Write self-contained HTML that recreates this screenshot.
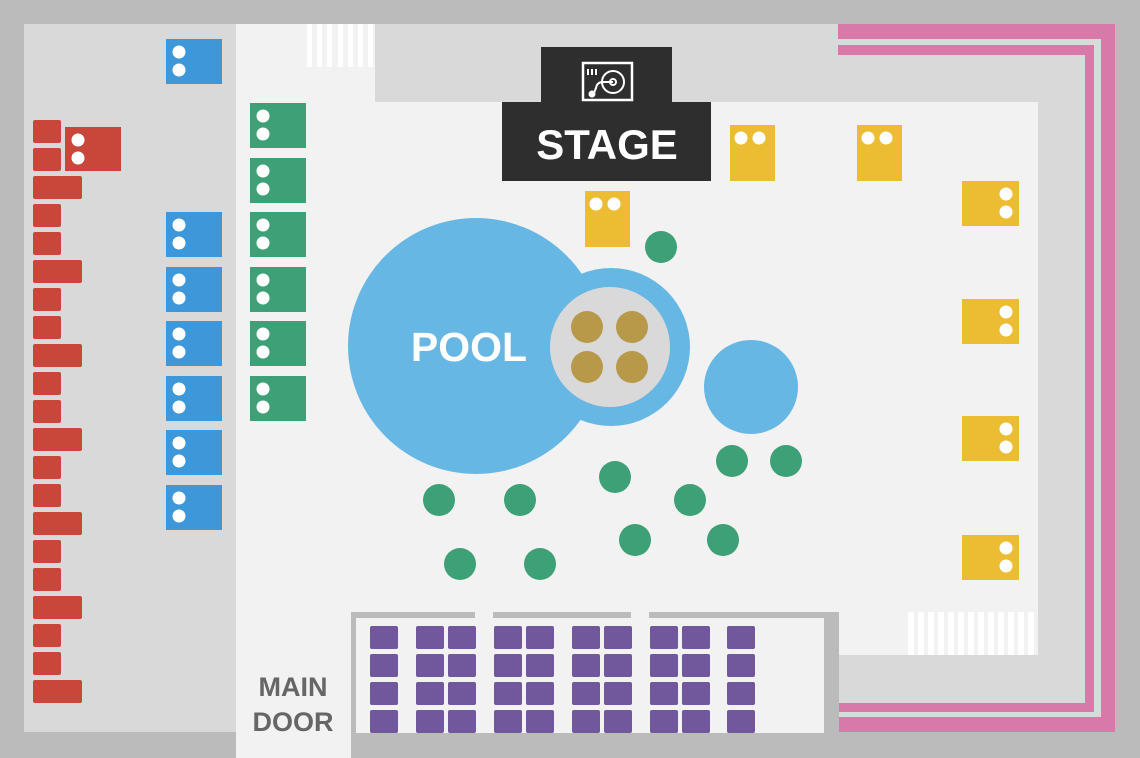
<!DOCTYPE html>
<html><head><meta charset="utf-8"><style>html,body{margin:0;padding:0;background:#bbb}svg{display:block}</style></head>
<body>
<svg width="1140" height="758" viewBox="0 0 1140 758" xmlns="http://www.w3.org/2000/svg" font-family="Liberation Sans, sans-serif">
<rect width="1140" height="758" fill="#bbbbbb"/>
<!-- left panel -->
<rect x="24" y="24" width="212" height="708" fill="#d9d9d9"/>
<!-- right/top gray -->
<rect x="236" y="24" width="879" height="708" fill="#d9d9d9"/>
<!-- floor -->
<rect x="236" y="24" width="139" height="734" fill="#f2f2f2"/>
<rect x="236" y="102" width="802" height="553" fill="#f2f2f2"/>
<!-- top stripes -->
<g fill="#ffffff">
<rect x="307" y="24" width="5" height="43"/><rect x="317" y="24" width="5" height="43"/><rect x="327" y="24" width="5" height="43"/><rect x="338" y="24" width="5" height="43"/><rect x="348" y="24" width="5" height="43"/><rect x="358" y="24" width="5" height="43"/><rect x="368" y="24" width="5" height="43"/>
</g>
<!-- bottom-right stripes -->
<g fill="#ffffff">
<rect x="908" y="612" width="6" height="43"/><rect x="918" y="612" width="6" height="43"/><rect x="928" y="612" width="6" height="43"/><rect x="938" y="612" width="6" height="43"/><rect x="948" y="612" width="6" height="43"/><rect x="958" y="612" width="6" height="43"/><rect x="968" y="612" width="6" height="43"/><rect x="978" y="612" width="6" height="43"/><rect x="988" y="612" width="6" height="43"/><rect x="998" y="612" width="6" height="43"/><rect x="1008" y="612" width="6" height="43"/><rect x="1018" y="612" width="6" height="43"/><rect x="1028" y="612" width="6" height="43"/>
</g>
<!-- pink lines -->
<g fill="#d779a9">
<rect x="838" y="24" width="277" height="15"/>
<rect x="1101" y="24" width="14" height="708"/>
<rect x="838" y="717" width="277" height="15"/>
<rect x="838" y="45" width="256" height="10"/>
<rect x="1085" y="45" width="9" height="667"/>
<rect x="838" y="703" width="256" height="9"/>
</g>
<!-- purple enclosure -->
<rect x="351" y="612" width="488" height="146" fill="#bbbbbb"/>
<rect x="356" y="618" width="468" height="115" fill="#f2f2f2"/>
<rect x="475" y="610" width="18" height="8" fill="#f2f2f2"/>
<rect x="631" y="610" width="18" height="8" fill="#f2f2f2"/>
<rect x="236" y="612" width="115" height="146" fill="#f2f2f2"/>
<g fill="#71579c">
<g id="pr">
<rect x="370" y="626" width="28" height="23" rx="2"/><rect x="416" y="626" width="28" height="23" rx="2"/><rect x="448" y="626" width="28" height="23" rx="2"/><rect x="494" y="626" width="28" height="23" rx="2"/><rect x="526" y="626" width="28" height="23" rx="2"/><rect x="572" y="626" width="28" height="23" rx="2"/><rect x="604" y="626" width="28" height="23" rx="2"/><rect x="650" y="626" width="28" height="23" rx="2"/><rect x="682" y="626" width="28" height="23" rx="2"/><rect x="727" y="626" width="28" height="23" rx="2"/>
</g>
<use href="#pr" y="28"/><use href="#pr" y="56"/><use href="#pr" y="84"/>
</g>
<text x="293" y="696" font-size="27" font-weight="bold" fill="#666" text-anchor="middle">MAIN</text>
<text x="293" y="731" font-size="27" font-weight="bold" fill="#666" text-anchor="middle">DOOR</text>
<!-- red -->
<g fill="#c9473a">
<rect x="33" y="120" width="28" height="23" rx="2"/><rect x="33" y="148" width="28" height="23" rx="2"/><rect x="33" y="176" width="49" height="23" rx="2"/>
<rect x="33" y="204" width="28" height="23" rx="2"/><rect x="33" y="232" width="28" height="23" rx="2"/><rect x="33" y="260" width="49" height="23" rx="2"/>
<rect x="33" y="288" width="28" height="23" rx="2"/><rect x="33" y="316" width="28" height="23" rx="2"/><rect x="33" y="344" width="49" height="23" rx="2"/>
<rect x="33" y="372" width="28" height="23" rx="2"/><rect x="33" y="400" width="28" height="23" rx="2"/><rect x="33" y="428" width="49" height="23" rx="2"/>
<rect x="33" y="456" width="28" height="23" rx="2"/><rect x="33" y="484" width="28" height="23" rx="2"/><rect x="33" y="512" width="49" height="23" rx="2"/>
<rect x="33" y="540" width="28" height="23" rx="2"/><rect x="33" y="568" width="28" height="23" rx="2"/><rect x="33" y="596" width="49" height="23" rx="2"/>
<rect x="33" y="624" width="28" height="23" rx="2"/><rect x="33" y="652" width="28" height="23" rx="2"/><rect x="33" y="680" width="49" height="23" rx="2"/>
<rect x="65" y="127" width="56" height="44"/>
</g>
<g fill="#fff"><circle cx="78" cy="140" r="6.5"/><circle cx="78" cy="158" r="6.5"/></g>
<!-- blue -->
<g>
<g fill="#3d97d8">
<rect x="166" y="39" width="56" height="45"/><rect x="166" y="212" width="56" height="45"/><rect x="166" y="267" width="56" height="45"/><rect x="166" y="321" width="56" height="45"/><rect x="166" y="376" width="56" height="45"/><rect x="166" y="430" width="56" height="45"/><rect x="166" y="485" width="56" height="45"/>
</g>
<g fill="#fff">
<circle cx="179" cy="52" r="6.5"/><circle cx="179" cy="70" r="6.5"/>
<circle cx="179" cy="225" r="6.5"/><circle cx="179" cy="243" r="6.5"/>
<circle cx="179" cy="280" r="6.5"/><circle cx="179" cy="298" r="6.5"/>
<circle cx="179" cy="334" r="6.5"/><circle cx="179" cy="352" r="6.5"/>
<circle cx="179" cy="389" r="6.5"/><circle cx="179" cy="407" r="6.5"/>
<circle cx="179" cy="443" r="6.5"/><circle cx="179" cy="461" r="6.5"/>
<circle cx="179" cy="498" r="6.5"/><circle cx="179" cy="516" r="6.5"/>
</g>
</g>
<!-- green tables -->
<g fill="#3ea076">
<rect x="250" y="103" width="56" height="45"/><rect x="250" y="158" width="56" height="45"/><rect x="250" y="212" width="56" height="45"/><rect x="250" y="267" width="56" height="45"/><rect x="250" y="321" width="56" height="45"/><rect x="250" y="376" width="56" height="45"/>
</g>
<g fill="#fff">
<circle cx="263" cy="116" r="6.5"/><circle cx="263" cy="134" r="6.5"/>
<circle cx="263" cy="171" r="6.5"/><circle cx="263" cy="189" r="6.5"/>
<circle cx="263" cy="225" r="6.5"/><circle cx="263" cy="243" r="6.5"/>
<circle cx="263" cy="280" r="6.5"/><circle cx="263" cy="298" r="6.5"/>
<circle cx="263" cy="334" r="6.5"/><circle cx="263" cy="352" r="6.5"/>
<circle cx="263" cy="389" r="6.5"/><circle cx="263" cy="407" r="6.5"/>
</g>
<!-- stage -->
<rect x="541" y="47" width="131" height="56" fill="#2e2e2e"/>
<rect x="502" y="102" width="209" height="79" fill="#2e2e2e"/>
<rect x="583" y="63" width="49" height="37" fill="none" stroke="#fff" stroke-width="2.5"/>
<g stroke="#fff" stroke-width="2" fill="none">
<line x1="588" y1="69" x2="588" y2="75"/><line x1="592" y1="69" x2="592" y2="75"/><line x1="596" y1="69" x2="596" y2="75"/>
<circle cx="613" cy="82" r="11"/><circle cx="613" cy="82" r="3"/>
<path d="M613 82 L603 82 Q597 82 596 88 L594 93"/>
<circle cx="592" cy="94" r="2.5" fill="#fff"/>
</g>
<text x="607" y="159" font-size="42" font-weight="bold" fill="#fff" text-anchor="middle">STAGE</text>
<!-- yellow -->
<g fill="#ecbd33">
<rect x="730" y="125" width="45" height="56"/><rect x="857" y="125" width="45" height="56"/><rect x="585" y="191" width="45" height="56"/>
<rect x="962" y="181" width="57" height="45"/><rect x="962" y="299" width="57" height="45"/><rect x="962" y="416" width="57" height="45"/><rect x="962" y="535" width="57" height="45"/>
</g>
<g fill="#fff">
<circle cx="741" cy="138" r="6.5"/><circle cx="759" cy="138" r="6.5"/>
<circle cx="868" cy="138" r="6.5"/><circle cx="886" cy="138" r="6.5"/>
<circle cx="596" cy="204" r="6.5"/><circle cx="614" cy="204" r="6.5"/>
<circle cx="1006" cy="194" r="6.5"/><circle cx="1006" cy="212" r="6.5"/>
<circle cx="1006" cy="312" r="6.5"/><circle cx="1006" cy="330" r="6.5"/>
<circle cx="1006" cy="429" r="6.5"/><circle cx="1006" cy="447" r="6.5"/>
<circle cx="1006" cy="548" r="6.5"/><circle cx="1006" cy="566" r="6.5"/>
</g>
<!-- pool -->
<g fill="#67b7e5">
<circle cx="476" cy="346" r="128"/><circle cx="611" cy="347" r="79"/><circle cx="751" cy="387" r="47"/>
</g>
<circle cx="610" cy="347" r="60" fill="#d9d9d9"/>
<g fill="#b8994a"><circle cx="587" cy="327" r="16"/><circle cx="632" cy="327" r="16"/><circle cx="587" cy="367" r="16"/><circle cx="632" cy="367" r="16"/></g>
<text x="469" y="361" font-size="41" font-weight="bold" fill="#fff" text-anchor="middle">POOL</text>
<!-- green round tables -->
<g fill="#3ea076">
<circle cx="661" cy="247" r="16"/><circle cx="439" cy="500" r="16"/><circle cx="520" cy="500" r="16"/><circle cx="615" cy="477" r="16"/><circle cx="690" cy="500" r="16"/><circle cx="732" cy="461" r="16"/><circle cx="786" cy="461" r="16"/><circle cx="635" cy="540" r="16"/><circle cx="723" cy="540" r="16"/><circle cx="460" cy="564" r="16"/><circle cx="540" cy="564" r="16"/>
</g>
</svg>
</body></html>
